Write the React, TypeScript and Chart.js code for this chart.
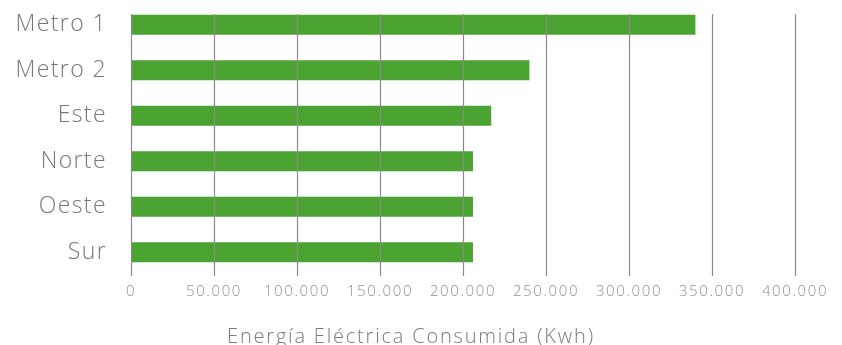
import React, { useEffect, useRef } from "react";
import { Chart, registerables } from "chart.js";

Chart.register(...registerables);

const categories = ["Metro 1", "Metro 2", "Este", "Norte", "Oeste", "Sur"];
const consumo = [340000, 240000, 217000, 206000, 206000, 206000];
const xMin = 0;
const xMax = 400000;
const xStep = 50000;
const axisTitle = "Energía Eléctrica Consumida (Kwh)";

const FONT = "'Open Sans', Lato, 'DejaVu Sans', sans-serif";

function fmt(v: number): string {
  return String(Math.round(v)).replace(/\B(?=(\d{3})+(?!\d))/g, ".");
}

function withSpacing(obj: any, key: string, spacing: string) {
  if (!obj || obj["__sp_" + key]) return;
  const orig = obj[key].bind(obj);
  obj[key] = (...args: any[]) => {
    const ctx = obj.ctx;
    ctx.save();
    ctx.letterSpacing = spacing;
    orig(...args);
    ctx.restore();
  };
  obj["__sp_" + key] = true;
}

const gridPlugin = {
  id: "customGrid",
  beforeDraw(chart: any) {
    withSpacing(chart.titleBlock, "draw", "1.8px");
    withSpacing(chart.scales.x, "drawLabels", "1.6px");
    withSpacing(chart.scales.y, "drawLabels", "1.4px");
  },
  afterDatasetsDraw(chart: any) {
    const { ctx, chartArea, scales } = chart;
    const xs = scales.x;
    ctx.save();
    ctx.strokeStyle = "#8a8a8a";
    ctx.lineWidth = 1.2;
    xs.ticks.forEach((t: any) => {
      const px = Math.round(xs.getPixelForValue(t.value)) + 0.5;
      ctx.beginPath();
      ctx.moveTo(px, chartArea.top + 12);
      ctx.lineTo(px, chartArea.bottom + 1);
      ctx.stroke();
    });
    ctx.restore();
  },
};

export default function App() {
  const ref = useRef<HTMLCanvasElement | null>(null);
  useEffect(() => {
    if (!ref.current) return;
    const chart = new Chart(ref.current, {
      type: "bar",
      data: {
        labels: categories,
        datasets: [
          {
            data: consumo,
            backgroundColor: "#4ba332",
            borderWidth: 0,
            barPercentage: 0.44,
            categoryPercentage: 1,
          },
        ],
      },
      options: {
        indexAxis: "y",
        animation: false,
        responsive: false,
        layout: { padding: { top: 2, left: 0, right: 20, bottom: 0 } },
        plugins: {
          legend: { display: false },
          tooltip: { enabled: false },
          title: {
            display: true,
            position: "bottom",
            text: axisTitle,
            color: "#7a7a7a",
            font: { family: FONT, size: 20, weight: "300", lineHeight: 1.2 },
            padding: { top: 24, bottom: -4 },
          },
        },
        scales: {
          x: {
            type: "linear",
            min: xMin,
            max: xMax,
            grid: { display: false, drawTicks: false },
            border: { display: false },
            ticks: {
              stepSize: xStep,
              padding: 8,
              color: "#8f8f8f",
              font: { family: FONT, size: 15, weight: "300" },
              callback: (v: any) => fmt(Number(v)),
            },
            afterFit: (s: any) => {
              s.height = 26;
              s.paddingLeft = 0;
              s.paddingRight = 47;
            },
          },
          y: {
            grid: { display: false, drawTicks: false },
            border: { display: false },
            ticks: {
              padding: 24,
              color: "#777777",
              font: { family: FONT, size: 23, weight: "300" },
            },
            afterFit: (s: any) => {
              s.width = 131;
              s.paddingTop = 0;
              s.paddingBottom = 0;
            },
          },
        },
      },
      plugins: [gridPlugin],
    });
    return () => chart.destroy();
  }, []);
  return (
    <div style={{ position: "absolute", left: 0, top: 0, width: 842, height: 345, background: "#fff" }}>
      <canvas ref={ref} width={842} height={345} />
    </div>
  );
}
